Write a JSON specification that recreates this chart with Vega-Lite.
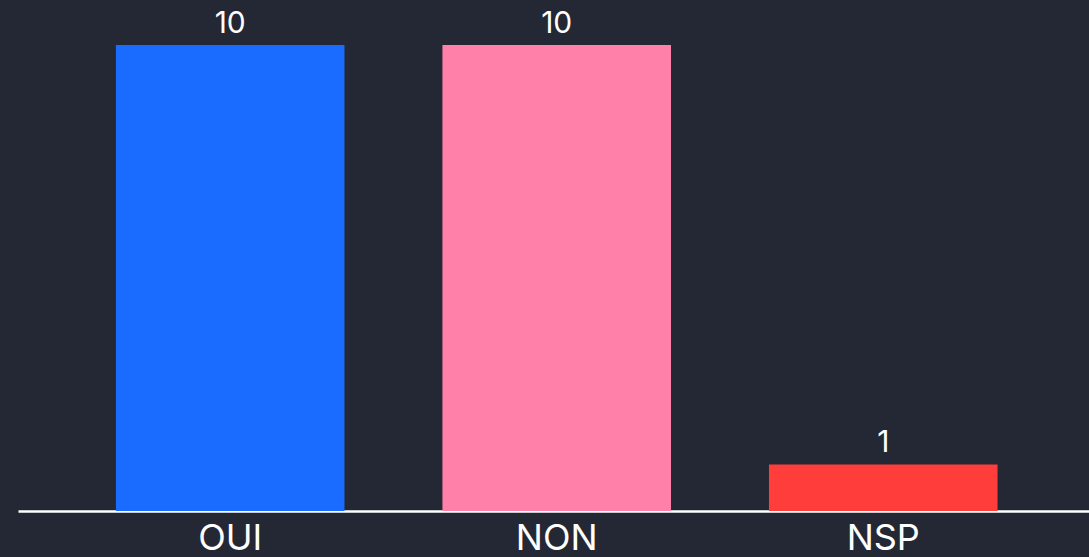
{
  "$schema": "https://vega.github.io/schema/vega-lite/v6.json",
  "autosize": {"type": "none"},
  "padding": {"left": 18, "top": 45, "right": 0, "bottom": 46},
  "width": 1071,
  "height": 466,
  "background": "#232834",
  "config": {
    "view": {"stroke": null},
    "font": "Inter"
  },
  "data": {
    "values": [
      {"reponse": "OUI", "count": 10},
      {"reponse": "NON", "count": 10},
      {"reponse": "NSP", "count": 1}
    ]
  },
  "encoding": {
    "x": {
      "field": "reponse",
      "type": "nominal",
      "sort": null,
      "scale": {"paddingInner": 0.3, "paddingOuter": 0.29, "align": 0.517},
      "axis": {
        "title": null,
        "labelAngle": 0,
        "labelFontSize": 36,
        "labelFontWeight": 400,
        "labelColor": "#ffffff",
        "labelFont": "Inter",
        "labelBaseline": "alphabetic",
        "labelPadding": 38,
        "ticks": false,
        "domainColor": "#ffffff",
        "domainWidth": 2.5,
        "grid": false
      }
    },
    "y": {
      "field": "count",
      "type": "quantitative",
      "scale": {"domain": [0, 10], "nice": false},
      "axis": null
    }
  },
  "layer": [
    {
      "mark": {"type": "bar"},
      "encoding": {
        "color": {
          "field": "reponse",
          "type": "nominal",
          "scale": {"domain": ["OUI", "NON", "NSP"], "range": ["#1a6bff", "#ff80a9", "#ff3d3b"]},
          "legend": null
        }
      }
    },
    {
      "mark": {"type": "text", "baseline": "alphabetic", "dy": -12, "fontSize": 30, "fontWeight": 400, "color": "#ffffff", "font": "Inter"},
      "encoding": {"text": {"field": "count", "type": "quantitative"}}
    }
  ]
}
